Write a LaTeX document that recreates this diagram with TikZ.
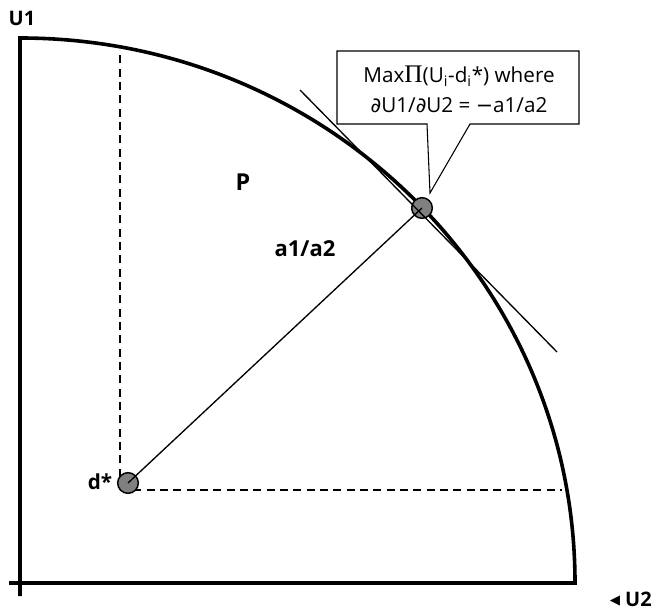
\documentclass[tikz,border=0pt]{standalone}
\usepackage{fontspec}
\setmainfont{Open Sans}
\newfontfamily\symf{DejaVu Sans}
\newfontfamily\grkf{Liberation Serif}
\usetikzlibrary{positioning}
\definecolor{dotc}{RGB}{128,128,128}
\tikzset{ax/.style={line width=2.7pt,line join=miter},
 ln/.style={line width=1pt},
 guide/.style={dash pattern=on 6pt off 4pt,line width=1.1pt},
 dot/.style={circle,draw,fill=dotc,line width=1.1pt,minimum size=15.5pt,inner sep=0pt},
 lab/.style={font=\bfseries\fontsize{15.5}{17}\selectfont,inner sep=0pt},
 note/.style={align=center,inner sep=0pt,font=\fontsize{15.5}{22.5}\selectfont}}

\begin{document}
\begin{tikzpicture}[x=0.75pt,y=0.75pt]
\useasboundingbox (0,0) rectangle (656,611);
% axes and the frontier
\draw[ax] (20,15) -- (20,573) arc[start angle=90,end angle=0,x radius=555,y radius=545] -- (9,28);
% projections of the disagreement point
\coordinate (dp) at (120,121);
\coordinate (dtop) at (120,561);
\coordinate (dend) at (562,121);
\draw[guide] (dp) -- (dtop);
\draw[guide] (dp) -- (dend);
\node[dot] (ds) at (128,128) {};
\node[dot] (T) at (422,403) {};
\draw[ln] (ds.center) -- (T.center);
\coordinate (tg1) at (300,521);
\coordinate (tg2) at (557,259);
\draw[ln] (tg1) -- (tg2);
% callout
\draw[line width=0.8pt,fill=white] (337,560) -- (579,560) -- (579,487) -- (470,487) -- (430,418) -- (427,487) -- (337,487) -- cycle;
\node[note] (note) at (459,522) {Max{\grkf\fontsize{19}{22}\selectfont Π}(U\textsubscript{i}-d\textsubscript{i}*) where\\{\symf ∂}U1/{\symf ∂}U2 = {\symf −}a1/a2};
% labels
\node[lab,font=\bfseries\fontsize{15}{17}\selectfont] (u1) at (22,593) {U1};
\node[lab,font=\bfseries\fontsize{17.5}{19}\selectfont] (P) at (243,429) {P};
\node[lab,font=\bfseries\fontsize{16.5}{19}\selectfont] (ratio) at (305,362) {a1/a2};
\node[lab] (dlab) at (100,129) {d*};
\node[lab,font=\bfseries\fontsize{15}{17}\selectfont,anchor=base east] (u2) at (652,5) {\raisebox{1.5pt}{\symf\fontsize{10}{11}\selectfont ◀} U2};
\end{tikzpicture}
\end{document}
